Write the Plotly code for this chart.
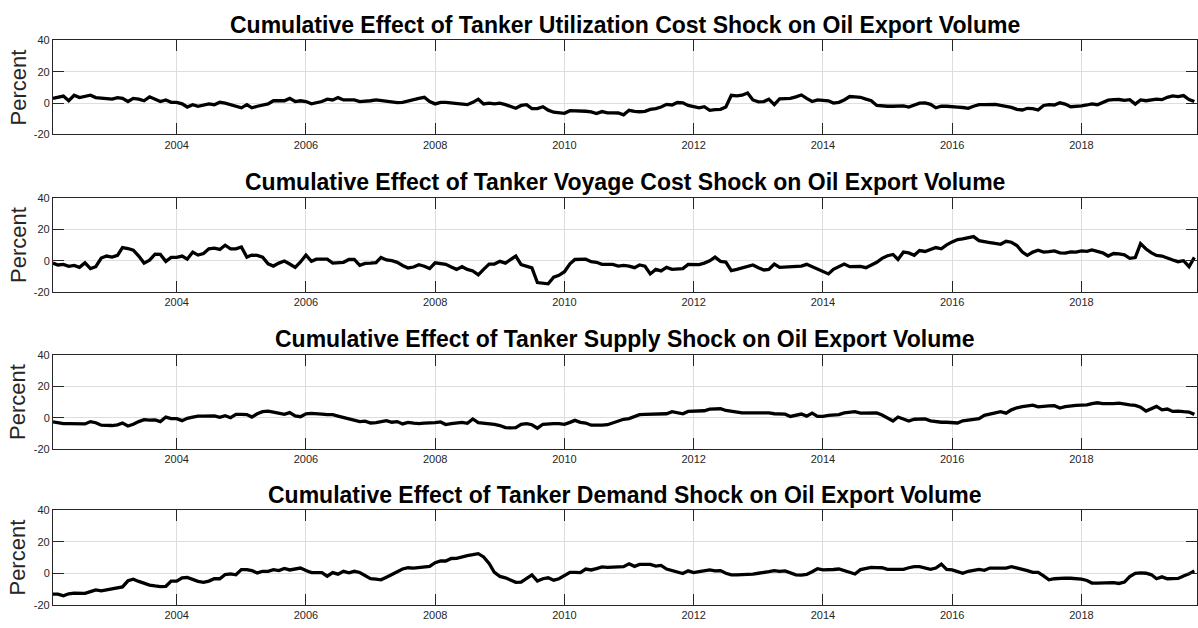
import pandas as pd
import plotly.graph_objects as go

# ---------------- data (monthly, Feb 2002 - Oct 2019) ----------------
start_month = "2002-02-01"

util_effect = [
    3.0, 3.5, 4.5, 1.5, 5.0, 3.5, 4.0, 5.0, 3.5, 3.0, 2.5,
    2.5, 3.5, 3.0, 1.0, 3.0, 2.5, 1.5, 4.0, 2.5, 1.0, 2.0, 0.5,
    0.5, -0.5, -2.5, -1.0, -2.0, -1.5, -0.5, -1.0, 0.5, 0.0, -1.0, -2.5,
    -3.0, -1.0, -3.0, -2.0, -1.0, -0.5, 1.5, 1.5, 1.5, 3.0, 1.0, 1.5,
    1.0, -0.5, 0.0, 1.0, 2.5, 2.0, 3.5, 2.0, 2.0, 2.0, 1.0, 1.0,
    1.5, 2.0, 1.5, 1.0, 0.7, 0.3, 0.5, 1.5, 2.0, 3.0, 3.7, 1.0,
    -0.5, 0.5, 0.5, 0.0, -0.3, -0.5, -1.0, 0.5, 2.5, -0.5, 0.0, -0.5,
    0.0, -1.0, -2.0, -3.3, -1.5, -1.0, -3.5, -3.5, -2.3, -4.5, -5.8, -6.0,
    -6.5, -4.8, -4.8, -5.0, -5.2, -5.6, -6.7, -5.4, -6.2, -6.2, -6.3, -7.5,
    -4.6, -5.2, -5.5, -5.2, -4.0, -3.5, -2.5, -0.8, -1.2, 0.4, 0.2, -1.5,
    -2.3, -3.0, -2.3, -4.6, -4.2, -4.0, -2.5, 5.0, 4.6, 5.0, 6.5, 2.0,
    0.8, 1.0, 2.5, -1.0, 2.7, 2.7, 3.0, 4.0, 5.2, 3.0, 1.0, 2.0,
    2.0, 1.5, 0.0, 0.5, 2.0, 4.2, 4.0, 3.7, 2.5, 1.5, -1.5, -2.0,
    -2.0, -2.0, -1.8, -1.8, -2.5, -1.0, 0.0, 0.2, -0.8, -3.0, -2.0, -2.0,
    -2.5, -2.5, -2.8, -3.3, -2.0, -1.0, -1.0, -0.8, -0.8, -1.5, -2.0, -2.7,
    -4.0, -4.4, -3.3, -3.5, -4.4, -1.5, -1.0, -1.2, 0.2, -0.6, -2.3, -2.2,
    -1.8, -1.2, -0.5, -1.0, 0.5, 1.9, 2.2, 2.3, 1.7, 2.2, -0.6, 2.0,
    1.5, 2.0, 2.5, 2.2, 3.7, 4.6, 4.2, 4.8, 2.3, 1.0,
]

voyage_effect = [
    -1.5, -2.7, -2.3, -3.6, -3.0, -4.2, -1.3, -5.0, -3.8, 1.7, 3.0,
    2.3, 3.4, 8.4, 7.8, 6.7, 3.0, -1.5, 0.4, 4.2, 4.0, -0.4, 2.1,
    2.1, 3.0, 1.0, 5.5, 3.6, 4.6, 7.6, 8.0, 7.2, 9.9, 7.6, 7.6,
    8.8, 2.3, 3.6, 3.4, 2.3, -2.0, -3.4, -1.5, -0.2, -2.1, -4.2, -0.8,
    3.6, -0.4, 1.0, 1.0, 1.0, -1.5, -1.2, -1.0, 0.8, 0.8, -2.9, -1.7,
    -1.5, -1.2, 2.1, 0.5, 0.0, -1.0, -3.0, -4.6, -4.0, -2.5, -3.5, -5.0,
    -1.3, -1.8, -2.3, -4.0, -5.5, -3.8, -5.5, -6.5, -9.0, -5.5, -2.1, -2.1,
    -0.4, -1.5, 0.6, 3.0, -2.5, -3.5, -4.6, -13.9, -14.5, -14.7, -10.5, -9.3,
    -7.0, -2.0, 0.8, 1.0, 1.0, -0.6, -1.0, -2.3, -2.3, -2.3, -3.4, -3.0,
    -3.4, -4.4, -2.7, -3.5, -8.4, -5.5, -6.5, -4.2, -5.5, -5.0, -5.0, -2.3,
    -2.3, -2.5, -1.5, 0.0, 2.3, -0.4, -0.8, -6.3, -5.5, -4.6, -3.6, -2.7,
    -4.5, -5.9, -5.5, -2.1, -4.2, -4.0, -3.8, -3.6, -3.4, -2.3, -3.8, -5.5,
    -7.0, -8.4, -5.5, -4.0, -2.1, -3.8, -3.5, -3.6, -4.4, -2.7, -1.0, 1.5,
    3.2, 4.0, 0.8, 5.5, 5.0, 3.5, 6.5, 5.9, 7.0, 8.4, 7.6, 10.1,
    12.0, 13.5, 13.9, 14.5, 15.4, 12.8, 12.0, 11.6, 11.0, 10.5, 12.4, 11.8,
    9.7, 5.5, 3.4, 5.5, 6.7, 5.5, 5.8, 6.3, 5.0, 4.8, 5.7, 5.5,
    6.3, 6.0, 6.9, 5.9, 5.0, 3.0, 4.6, 4.4, 3.8, 1.5, 2.0, 10.9,
    7.5, 5.0, 3.4, 3.0, 1.5, 0.5, -0.6, 0.0, -3.8, 2.1,
]

supply_effect = [
    -2.7, -3.4, -3.8, -3.8, -3.8, -3.9, -4.0, -2.5, -3.2, -4.8, -5.0,
    -5.0, -4.6, -3.4, -5.3, -4.2, -2.5, -1.3, -1.5, -1.4, -2.5, 0.4, -0.6,
    -0.6, -1.9, -0.4, 0.4, 1.0, 1.0, 1.0, 1.2, 0.2, 1.3, 0.0, 2.1,
    2.1, 2.0, 0.4, 2.5, 3.8, 4.2, 3.6, 2.8, 2.1, 3.2, 1.1, 0.6,
    2.5, 2.7, 2.3, 2.2, 2.0, 1.9, 1.0, 0.2, -0.8, -1.7, -2.5, -2.2,
    -3.4, -3.2, -2.5, -1.9, -2.9, -2.5, -4.0, -3.0, -3.5, -3.8, -3.5, -3.6,
    -3.2, -2.7, -4.4, -3.8, -3.6, -3.0, -3.6, -0.8, -3.2, -3.5, -3.8, -4.2,
    -5.0, -6.3, -6.5, -6.4, -4.2, -3.8, -4.5, -6.7, -4.2, -3.8, -3.8, -3.8,
    -4.2, -3.0, -1.7, -3.0, -3.4, -4.8, -5.0, -4.8, -4.5, -3.5, -2.5, -1.0,
    -0.6, 0.5, 1.9, 2.1, 2.3, 2.4, 2.5, 2.5, 3.8, 3.0, 2.5, 4.0,
    4.0, 4.2, 4.4, 5.5, 5.6, 5.7, 4.6, 4.0, 3.2, 3.0, 3.0, 3.0,
    3.2, 3.4, 3.0, 2.5, 2.5, 2.2, 0.8, 1.3, 2.3, 1.0, 2.9, 0.8,
    0.8, 1.5, 1.9, 2.0, 3.0, 3.5, 3.8, 2.9, 2.9, 2.9, 3.0, 1.7,
    -0.5, -2.1, 0.4, -1.0, -2.1, -1.0, -0.8, -0.8, -2.0, -2.5, -2.9, -2.9,
    -2.9, -3.4, -2.0, -1.5, -1.2, -0.6, 1.5, 2.5, 3.0, 3.8, 2.9, 5.0,
    6.3, 7.0, 7.5, 8.0, 6.9, 7.4, 7.5, 7.6, 6.1, 7.0, 7.6, 7.8,
    8.0, 8.2, 9.0, 9.5, 9.0, 8.8, 9.0, 9.3, 8.6, 8.2, 7.8, 6.7,
    4.2, 5.8, 7.2, 5.0, 5.5, 4.0, 4.2, 3.8, 3.6, 2.1,
]

demand_effect = [
    -13.3, -13.3, -14.4, -13.1, -12.7, -12.7, -12.8, -11.7, -10.6, -11.2, -10.6,
    -10.2, -9.6, -8.7, -4.8, -3.8, -5.2, -6.5, -7.5, -8.1, -8.5, -8.3, -5.0,
    -5.0, -2.9, -2.7, -4.0, -5.2, -5.8, -5.0, -3.5, -3.5, -0.8, -0.4, -1.0,
    2.3, 2.3, 1.7, 0.2, 1.25, 1.25, 2.3, 1.7, 3.1, 2.1, 2.7, 3.3,
    1.7, 0.4, 0.4, 0.4, -1.9, 0.4, -0.6, 1.25, 0.3, 1.25, 0.5, -1.25,
    -3.5, -3.8, -4.2, -2.5, -1.0, 1.0, 2.7, 3.5, 3.3, 3.5, 3.9, 4.4,
    6.7, 7.9, 7.8, 9.4, 9.5, 10.5, 11.2, 11.8, 12.5, 10.4, 6.25, 0.5,
    -2.0, -2.9, -4.5, -5.8, -5.6, -3.5, -1.0, -5.0, -3.5, -2.9, -4.4, -3.5,
    -1.25, 0.6, 0.5, 0.4, 2.7, 2.1, 3.0, 4.0, 3.8, 4.0, 4.4, 4.2,
    6.0, 4.4, 5.6, 5.5, 5.6, 4.6, 5.0, 2.7, 1.7, 1.0, -0.2, 1.5,
    0.4, 1.0, 1.5, 2.1, 1.5, 1.7, 0.0, -1.0, -1.0, -1.0, -0.8, -0.5,
    0.0, 0.4, 1.0, 1.7, 1.25, 1.5, 0.3, -1.0, -1.25, -0.8, 1.0, 2.9,
    2.1, 2.1, 2.4, 2.7, 1.7, 0.5, -0.5, 2.3, 3.0, 3.75, 3.6, 3.5,
    2.5, 2.5, 2.5, 2.5, 3.5, 4.2, 4.2, 3.5, 2.5, 3.3, 5.8, 2.5,
    2.1, 1.0, 0.0, 1.25, 1.8, 2.5, 1.9, 3.3, 3.3, 3.3, 3.3, 4.2,
    3.5, 2.7, 1.7, 0.6, 0.5, -1.7, -4.2, -3.5, -3.1, -3.1, -3.2, -3.5,
    -3.75, -4.6, -6.25, -6.25, -6.25, -5.8, -6.0, -6.5, -5.6, -2.1, 0.0, 0.2,
    0.0, -1.0, -3.5, -2.3, -3.5, -3.4, -3.3, -1.7, -0.4, 1.5,
]

panel_titles = [
    "Cumulative Effect of Tanker Utilization Cost Shock on Oil Export Volume",
    "Cumulative Effect of Tanker Voyage Cost Shock on Oil Export Volume",
    "Cumulative Effect of Tanker Supply Shock on Oil Export Volume",
    "Cumulative Effect of Tanker Demand Shock on Oil Export Volume",
]
y_label = "Percent"
x_tick_years = [2004, 2006, 2008, 2010, 2012, 2014, 2016, 2018]
y_tick_values = [-20, 0, 20, 40]

# ---------------- figure ----------------
series = [util_effect, voyage_effect, supply_effect, demand_effect]
dates = pd.date_range(start_month, periods=len(util_effect), freq="MS")

W, H = 1198, 628
x_left_px, x_right_px = 53, 1198
panel_px = [(35, 131), (195.7, 291.7), (355.7, 451.7), (514.3, 610.3)]
FONT = "Liberation Sans, Arial, sans-serif"

fig = go.Figure()
layout = dict(
    width=W, height=H,
    margin=dict(l=0, r=0, t=0, b=0),
    paper_bgcolor="white", plot_bgcolor="white",
    showlegend=False,
    font=dict(family=FONT, color="#262626"),
)
annotations = []
axis_common = dict(
    showline=True, linecolor="#262626", linewidth=1, mirror="allticks",
    ticks="inside", ticklen=11, tickwidth=1, tickcolor="#262626",
    showgrid=True, gridcolor="#dedede", gridwidth=1, zeroline=False,
    tickfont=dict(size=11, color="#262626", family=FONT),
)

for k, (vals, title) in enumerate(zip(series, panel_titles)):
    n = k + 1
    xa = "x" if n == 1 else f"x{n}"
    ya = "y" if n == 1 else f"y{n}"
    fig.add_trace(go.Scatter(
        x=dates, y=vals, mode="lines", xaxis=xa, yaxis=ya,
        line=dict(color="black", width=3.3), hoverinfo="skip",
    ))
    top_px, bot_px = panel_px[k]
    y0 = 1 - bot_px / H
    y1 = 1 - top_px / H
    layout["xaxis" if n == 1 else f"xaxis{n}"] = dict(
        domain=[x_left_px / W, x_right_px / W], anchor=ya,
        range=["2002-02-01", "2019-10-16"],
        tickvals=[f"{yr}-01-01" for yr in x_tick_years],
        ticktext=[str(yr) for yr in x_tick_years],
        **axis_common,
    )
    layout["yaxis" if n == 1 else f"yaxis{n}"] = dict(
        domain=[y0, y1], anchor=xa, range=[-20, 40],
        tickvals=y_tick_values, ticktext=[str(v) for v in y_tick_values],
        **axis_common,
    )
    annotations.append(dict(
        text=f"<b>{title}</b>", xref="paper", yref="paper",
        x=(x_left_px + x_right_px) / 2 / W, y=1 - (top_px - 16) / H,
        xanchor="center", yanchor="middle", showarrow=False,
        font=dict(size=23, color="black", family=FONT),
    ))
    annotations.append(dict(
        text=y_label, xref="paper", yref="paper",
        x=18 / W, y=(y0 + y1) / 2, xanchor="center", yanchor="middle",
        textangle=-90, showarrow=False,
        font=dict(size=22, color="#262626", family=FONT),
    ))

layout["annotations"] = annotations
fig.update_layout(**layout)
fig.write_html(
    "out.html",
    config={"displayModeBar": False, "staticPlot": True},
    post_script="document.body.style.margin='0';document.body.style.overflow='hidden';",
)
